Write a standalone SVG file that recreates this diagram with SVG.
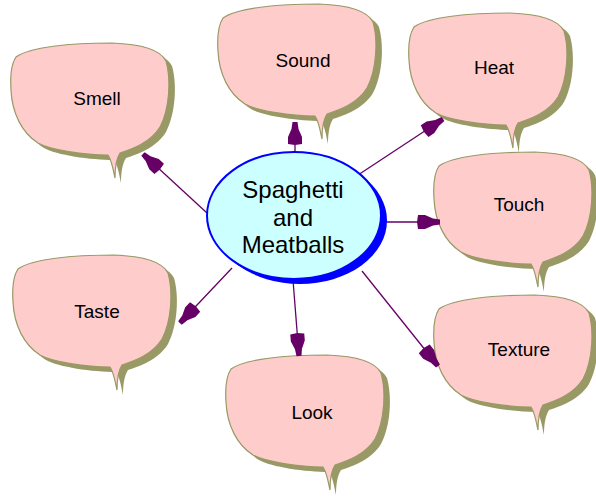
<svg xmlns="http://www.w3.org/2000/svg" xmlns:xlink="http://www.w3.org/1999/xlink" width="596" height="499" viewBox="0 0 596 499">
<style>
.shadow{fill:#999966;stroke:none}
.body{fill:#ffcccc;stroke:#999966;stroke-width:1.2}
.lbl{font-family:"Liberation Sans",Arial,sans-serif;font-size:19px;fill:#000;text-anchor:middle}
.ctr{font-family:"Liberation Sans",Arial,sans-serif;font-size:24px;fill:#000;text-anchor:middle}
.conn{stroke:#660066;stroke-width:1.3;fill:none;marker-end:url(#ah)}
</style>
<defs>
<path id="bub" d="M6,14 C20,4 60,0 102,0 C130,1 150,6 156,18 C161,35 160,65 150,84 C140,100 122,106 110,110 C106,116 105,126 105,135 C103,126 102,118 98,112 C75,112 40,107 28,100 C12,90 2,70 1,47 C0,32 2,20 6,14 Z"/>
<marker id="ah" viewBox="-25 -8 27 16" refX="0" refY="0" markerWidth="27" markerHeight="16" markerUnits="userSpaceOnUse" orient="auto">
<path d="M0,-2.5 L-7,-3.5 L-15,-7 L-22,-7 L-23,0 L-22,7 L-15,7 L-7,3.5 L0,2.5 Z" fill="#660066"/>
</marker>
</defs>
<g id="smell" transform="translate(10,43)"><use xlink:href="#bub" class="shadow" x="6" y="5"/><use xlink:href="#bub" class="body"/><text class="lbl" x="87" y="62">Smell</text></g>
<g id="sound" transform="translate(217,4)"><use xlink:href="#bub" class="shadow" x="6" y="5"/><use xlink:href="#bub" class="body"/><text class="lbl" x="86" y="63">Sound</text></g>
<g id="taste" transform="translate(12,255)"><use xlink:href="#bub" class="shadow" x="6" y="5"/><use xlink:href="#bub" class="body"/><text class="lbl" x="85" y="63">Taste</text></g>
<g id="look" transform="translate(225,355)"><use xlink:href="#bub" class="shadow" x="6" y="5"/><use xlink:href="#bub" class="body"/><text class="lbl" x="87" y="64">Look</text></g>
<g id="texture" transform="translate(433,295)"><use xlink:href="#bub" class="shadow" x="6" y="5"/><use xlink:href="#bub" class="body"/><text class="lbl" x="86" y="61">Texture</text></g>
<g id="touch" transform="translate(433,152)"><use xlink:href="#bub" class="shadow" x="6" y="5"/><use xlink:href="#bub" class="body"/><text class="lbl" x="86" y="59">Touch</text></g>
<g id="heat" transform="translate(408,13)"><use xlink:href="#bub" class="shadow" x="6" y="5"/><use xlink:href="#bub" class="body"/><text class="lbl" x="86" y="61">Heat</text></g>
<g id="connectors">
<line class="conn" x1="207" y1="213" x2="143" y2="154"/>
<line class="conn" x1="295" y1="153" x2="295" y2="122"/>
<line class="conn" x1="358" y1="175" x2="443" y2="119"/>
<line class="conn" x1="381" y1="222" x2="440" y2="222"/>
<line class="conn" x1="362" y1="271" x2="438" y2="366"/>
<line class="conn" x1="293" y1="280" x2="299" y2="356"/>
<line class="conn" x1="232" y1="268" x2="180" y2="323"/>
</g>
<g id="center">
<ellipse cx="300" cy="220.5" rx="87" ry="63.5" fill="#0000ff"/>
<ellipse cx="294" cy="215.5" rx="87" ry="63.5" fill="#ccffff" stroke="#0000ff" stroke-width="2"/>
<text class="ctr" x="293" y="198">Spaghetti</text>
<text class="ctr" x="293" y="226">and</text>
<text class="ctr" x="293" y="253">Meatballs</text>
</g>
</svg>
